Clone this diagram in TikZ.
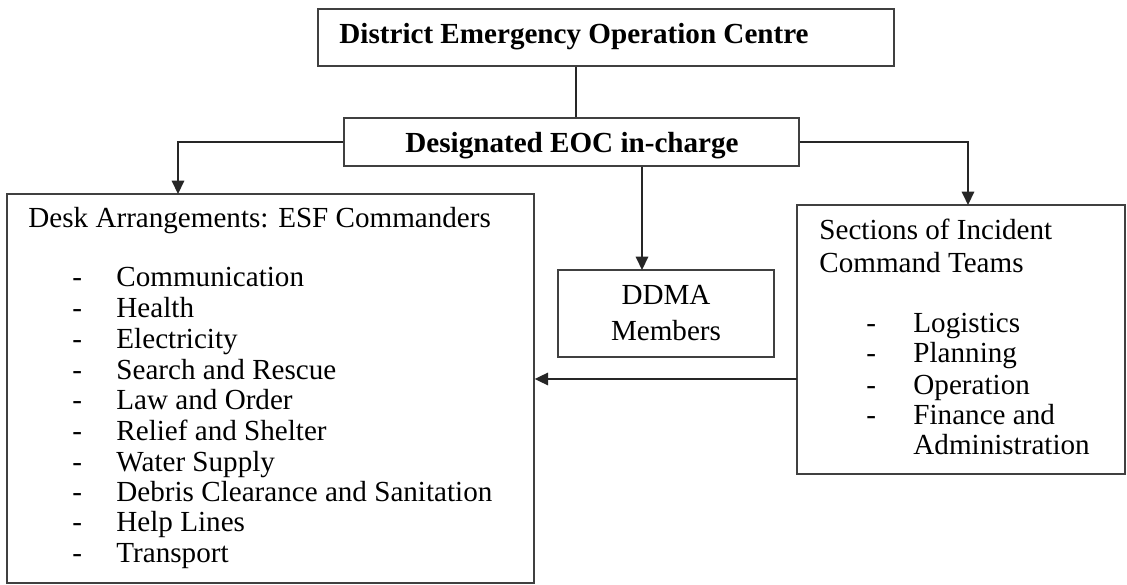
\documentclass[tikz,border=0pt]{standalone}
\usepackage{fontspec}
\setmainfont{Liberation Serif}
\usepackage{tikz}
\usetikzlibrary{arrows.meta}
\usetikzlibrary{fit}
\tikzset{>=stealth}
\tikzset{box/.style={draw=black!75, line width=0.6pt, inner sep=0pt},
  txt/.style={anchor=base west, inner sep=0pt, font=\fontsize{13.1}{15}\selectfont},
  ctxt/.style={anchor=base, inner sep=0pt, font=\fontsize{13.1}{15}\selectfont},
  arr/.style={-{Triangle[length=6pt,width=5.6pt]}, line width=0.7pt, draw=black!85}}

\begin{document}
\begin{tikzpicture}[x=0.45pt,y=-0.45pt]
      \fill[white] (0,0) rectangle (1127,585);
      \useasboundingbox (0,0) rectangle (1127,585);
      % boxes
      \node[box, fit={(318,9) (894,66)}] (deoc) {};
      \node[box, fit={(344,118) (799,166)}] (eoc) {};
      \node[box, fit={(7,194) (534,583)}] (desk) {};
      \node[box, fit={(558,270) (774,357)}] (ddma) {};
      \node[box, fit={(797,205) (1125,474)}] (ict) {};
      % titles
      \node[txt] (deoct) at (339,44) {\bfseries District Emergency Operation Centre};
      \node[ctxt] (eoct) at (572,153) {\bfseries Designated EOC in-charge};
      \node[ctxt] (ddma1) at (666,305) {DDMA};
      \node[ctxt] (ddma2) at (666,341) {Members};
      \node[txt] (deskt) at (28,228) {Desk Arrangements: ESF Commanders};
      \node[txt] (ictt1) at (819,240) {Sections of Incident};
      \node[txt] (ictt2) at (819,273) {Command Teams};
      % desk list
      \node[txt] (d1) at (72,287) {-}; \node[txt] (e1) at (116,287) {Communication};
      \node[txt] (d2) at (72,318) {-}; \node[txt] (e2) at (116,318) {Health};
      \node[txt] (d3) at (72,349) {-}; \node[txt] (e3) at (116,349) {Electricity};
      \node[txt] (d4) at (72,380) {-}; \node[txt] (e4) at (116,380) {Search and Rescue};
      \node[txt] (d5) at (72,410) {-}; \node[txt] (e5) at (116,410) {Law and Order};
      \node[txt] (d6) at (72,441) {-}; \node[txt] (e6) at (116,441) {Relief and Shelter};
      \node[txt] (d7) at (72,472) {-}; \node[txt] (e7) at (116,472) {Water Supply};
      \node[txt] (d8) at (72,502) {-}; \node[txt] (e8) at (116,502) {Debris Clearance and Sanitation};
      \node[txt] (d9) at (72,532) {-}; \node[txt] (e9) at (116,532) {Help Lines};
      \node[txt] (d10) at (72,563) {-}; \node[txt] (e10) at (116,563) {Transport};
      % section list
      \node[txt] (s1) at (866,333) {-}; \node[txt] (t1) at (913,333) {Logistics};
      \node[txt] (s2) at (866,363) {-}; \node[txt] (t2) at (913,363) {Planning};
      \node[txt] (s3) at (866,395) {-}; \node[txt] (t3) at (913,395) {Operation};
      \node[txt] (s4) at (866,425) {-}; \node[txt] (t4) at (913,425) {Finance and};
      \node[txt] (t5) at (913,455) {Administration};
      % connectors
      \coordinate (tp) at (576,66);
      \coordinate (dk) at (178,194);
      \coordinate (sc) at (968,205);
      \coordinate (dm) at (642,270);
      \coordinate (lk) at (797,379);
      \draw[line width=0.7pt, black!85] (deoc.south -| tp) -- (eoc.north -| tp);
      \draw[arr] (eoc.west) -| (dk);
      \draw[arr] (eoc.east) -| (sc);
      \draw[arr] (eoc.south -| dm) -- (dm);
      \draw[arr] (lk) -- (lk -| desk.east);
\end{tikzpicture}
\end{document}
